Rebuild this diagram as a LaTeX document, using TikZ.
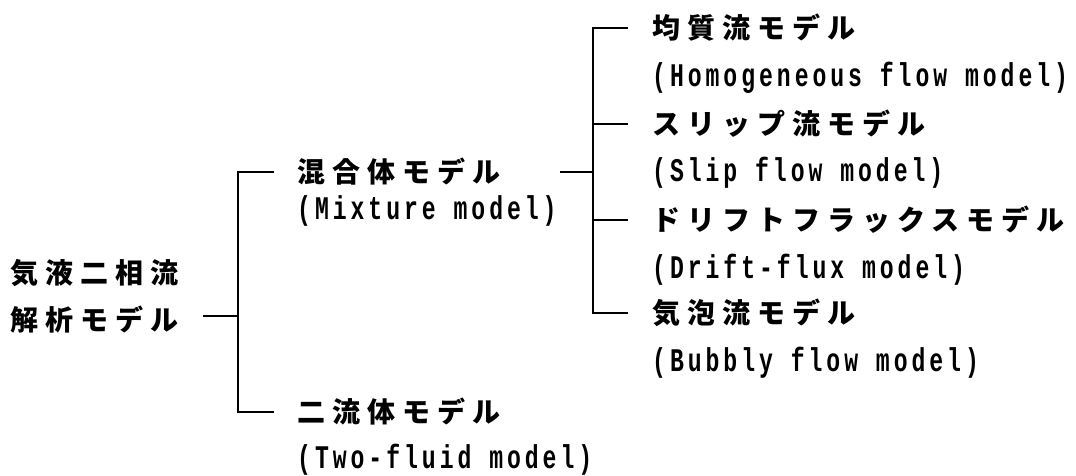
\documentclass[tikz,border=0pt]{standalone}
\usepackage{fontspec}
\newfontfamily\jpfont[LetterSpace=25]{Noto Sans CJK JP}
\newfontfamily\monofont[FakeStretch=0.7,LetterSpace=12]{Liberation Mono}
\begin{document}
\begin{tikzpicture}[x=1pt,y=-1pt,
  jtext/.style={font=\jpfont\bfseries\fontsize{28}{28}\selectfont, anchor=west, inner sep=0pt},
  etext/.style={font=\monofont\bfseries\fontsize{33}{33}\selectfont, anchor=west, inner sep=0pt},
  link/.style={line width=1.8pt}]
\useasboundingbox (0,0) rectangle (1076,475);
% root
\node[jtext] (r1) at (10,273) {気液二相流};
\node[jtext] (r2) at (10,320) {解析モデル};
% level 1
\node[jtext] (m1) at (297,172) {混合体モデル};
\node[etext] (m2) at (297,211) {(Mixture model)};
\node[jtext] (t1) at (297,412) {二流体モデル};
\node[etext] (t2) at (297,460) {(Two-fluid model)};
% level 2
\node[jtext] (h1) at (652,28) {均質流モデル};
\node[etext] (h2) at (652,78) {(Homogeneous flow model)};
\node[jtext] (s1) at (652,124) {スリップ流モデル};
\node[etext] (s2) at (652,173) {(Slip flow model)};
\node[jtext] (d1) at (652,220) {ドリフトフラックスモデル};
\node[etext] (d2) at (652,270) {(Drift-flux model)};
\node[jtext] (b1) at (652,313) {気泡流モデル};
\node[etext] (b2) at (652,363) {(Bubbly flow model)};
% junctions
\coordinate (j0) at (238,316);
\coordinate (rootout) at (203,316);
\coordinate (j1) at (593,172);
\coordinate (mixout) at (560,172);
% connectors
\draw[link] (rootout) -- (j0);
\draw[link] ([xshift=-23pt]m1.west) -- (m1.west -| j0) -- (t1.west -| j0) -- ([xshift=-23pt]t1.west);
\draw[link] (mixout) -- (j1);
\draw[link] ([xshift=-24pt]h1.west) -- (h1.west -| j1) -- (b1.west -| j1) -- ([xshift=-24pt]b1.west);
\draw[link] ([xshift=-24pt]s1.west) -- (s1.west -| j1);
\draw[link] ([xshift=-24pt]d1.west) -- (d1.west -| j1);
\end{tikzpicture}
\end{document}
